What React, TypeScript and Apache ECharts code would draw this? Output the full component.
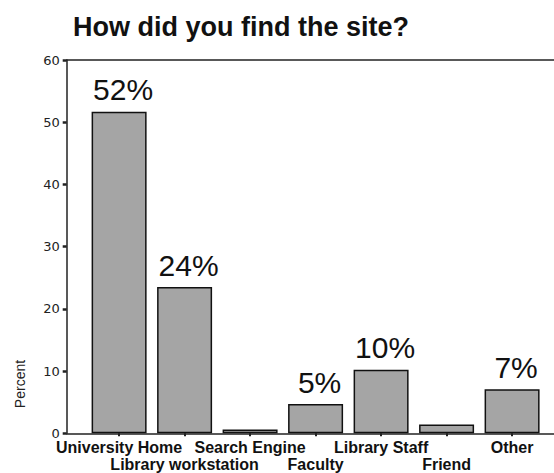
import React, { useEffect, useRef } from "react";
import * as echarts from "echarts";

const titleText = "How did you find the site?";
const categories = [
  "University Home",
  "Library workstation",
  "Search Engine",
  "Faculty",
  "Library Staff",
  "Friend",
  "Other",
];
const percentValues = [51.7, 23.5, 0.6, 4.7, 10.2, 1.4, 7.1];
const valueLabels = ["52%", "24%", "", "5%", "10%", "", "7%"];
const yTicks = { min: 0, max: 60, interval: 10 };
const yAxisName = "Percent";

export default function App() {
  const ref = useRef<HTMLDivElement>(null);
  useEffect(() => {
    if (!ref.current) return;
    const chart = echarts.init(ref.current, null, { renderer: "svg" });
    const idx = categories.map((_, i) => i);
    const evenIdx = idx.filter((i) => i % 2 === 0);
    const oddIdx = idx.filter((i) => i % 2 === 1);
    const xMin = -0.8;
    const xMax = 6.64;
    const labelStyle = {
      fontFamily: "Liberation Sans, Arial, sans-serif",
      fontWeight: "bold",
      fontSize: 16,
      color: "#111",
      showMinLabel: true,
      showMaxLabel: true,
      hideOverlap: false,
      formatter: (v: number) => categories[Math.round(v)] ?? "",
    };
    chart.setOption({
      animation: false,
      backgroundColor: "#ffffff",
      title: {
        text: titleText,
        left: 68,
        top: 8,
        textStyle: {
          fontFamily: "Liberation Sans, Arial, sans-serif",
          fontWeight: "bold",
          fontSize: 27,
          color: "#111",
        },
      },
      grid: { left: 66.7, right: 0, top: 60, bottom: 39.7, containLabel: false },
      xAxis: [
        {
          type: "value",
          min: xMin,
          max: xMax,
          splitLine: { show: false },
          axisLine: { show: true, onZero: false, lineStyle: { color: "#222", width: 1.5 } },
          axisTick: {
            show: true,
            customValues: idx,
            length: 3,
            lineStyle: { color: "#222", width: 2 },
          },
          axisLabel: { ...labelStyle, customValues: evenIdx, margin: 6 },
        },
        {
          type: "value",
          position: "top",
          min: xMin,
          max: xMax,
          splitLine: { show: false },
          axisLine: { show: true, onZero: false, lineStyle: { color: "#222", width: 1.5 } },
          axisTick: { show: false },
          axisLabel: { show: false },
        },
        {
          type: "value",
          position: "bottom",
          min: xMin,
          max: xMax,
          splitLine: { show: false },
          axisLine: { show: false, onZero: false },
          axisTick: { show: false },
          axisLabel: { ...labelStyle, customValues: oddIdx, margin: 23 },
        },
      ],
      yAxis: {
        type: "value",
        position: "left",
        min: yTicks.min,
        max: yTicks.max,
        interval: yTicks.interval,
        splitLine: { show: false },
        axisLine: { show: true, onZero: false, lineStyle: { color: "#222", width: 1.5 } },
        axisTick: { show: true, length: 4, lineStyle: { color: "#222", width: 2.5 } },
        axisLabel: {
          margin: 7,
          showMinLabel: true,
          fontFamily: "DejaVu Sans, sans-serif",
          fontSize: 13,
          color: "#222",
        },
      },
      graphic: [
        {
          type: "text",
          x: 20,
          y: 384,
          rotation: Math.PI / 2,
          style: {
            text: yAxisName,
            fontFamily: "Liberation Sans, Arial, sans-serif",
            fontSize: 14,
            fill: "#222",
            align: "center",
            verticalAlign: "middle",
          },
        },
      ],
      series: [
        {
          type: "bar",
          xAxisIndex: 0,
          barWidth: 55,
          data: percentValues.map((v, i) => [i, v]),
          itemStyle: { color: "#a5a5a5", borderColor: "#111", borderWidth: 1.5 },
          label: {
            show: true,
            position: "top",
            distance: 7,
            offset: [4, 0],
            fontFamily: "Liberation Sans, Arial, sans-serif",
            fontSize: 30,
            color: "#111",
            formatter: (p: any) => valueLabels[p.dataIndex],
          },
        },
      ],
    });
    return () => chart.dispose();
  }, []);
  return (
    <div
      ref={ref}
      style={{ position: "fixed", left: 0, top: 0, width: 554, height: 473 }}
    />
  );
}
